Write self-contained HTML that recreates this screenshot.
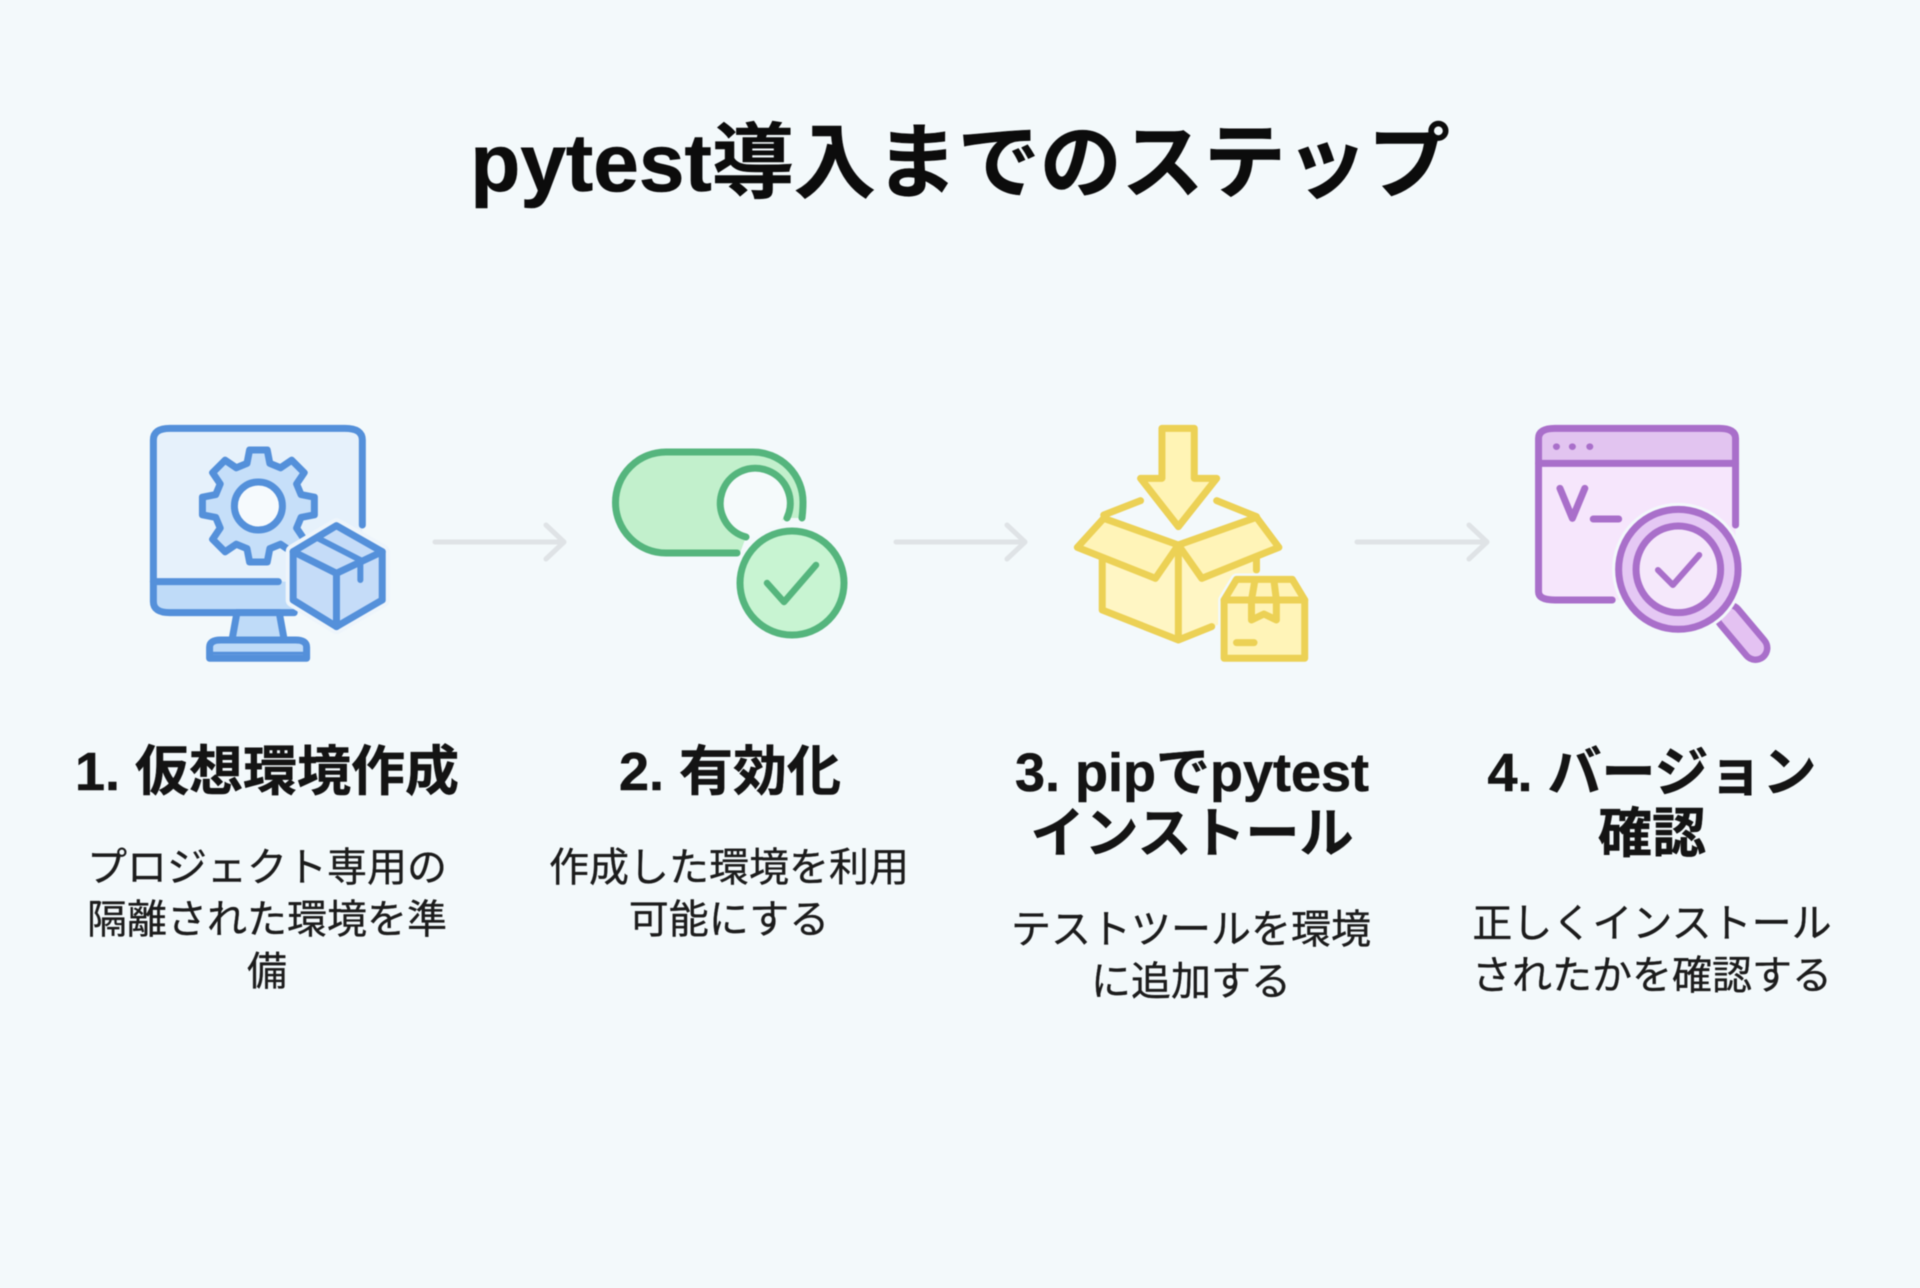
<!DOCTYPE html>
<html lang="ja">
<head>
<meta charset="utf-8">
<title>pytest導入までのステップ</title>
<style>
html,body{margin:0;padding:0;background:#f3f9fb;}
#p{position:relative;width:1920px;height:1288px;overflow:hidden;background:#f3f9fb;font-family:"Liberation Sans","Noto Sans CJK JP",sans-serif;color:#111;filter:blur(.5px);}
svg{position:absolute;left:0;top:0;}
svg *{vector-effect:non-scaling-stroke;stroke-linejoin:round;stroke-linecap:round;}
.t{position:absolute;width:800px;text-align:center;white-space:nowrap;}
.title{font-size:82px;font-weight:700;line-height:90px;left:360px;width:1200px;top:119px;color:#0c0c0c;-webkit-text-stroke:.6px #0c0c0c;}
.h{font-size:54px;font-weight:700;line-height:61px;color:#141414;-webkit-text-stroke:.5px #141414;}
.d{font-size:40px;font-weight:400;line-height:52px;color:#1c1c1c;-webkit-text-stroke:.35px #1c1c1c;}
</style>
</head>
<body>
<div id="p">
<svg width="1920" height="1288" viewBox="0 0 1920 1288" xmlns="http://www.w3.org/2000/svg">
  <!-- arrows -->
  <g fill="none" stroke="#dfe3e6" stroke-width="5">
    <path d="M435 542H563M546 525L564 542L546 559"/>
    <path d="M896 542H1024M1007 525L1025 542L1007 559"/>
    <path d="M1357 542H1486M1469 525L1487 542L1469 559"/>
  </g>

  <!-- icon 1 -->
  <g transform="translate(130,410) scale(.4975,.3333)">
    <path d="M47 90Q47 55 80 55H432Q467 55 467 90V575Q467 608 432 608H80Q47 608 47 575Z" fill="#e6f1fb"/>
    <path d="M47 515H330V608H80Q47 608 47 575Z" fill="#bfdbf8"/>
    <g fill="none" stroke="#5490da" stroke-width="7">
      <path d="M467 345V90Q467 55 432 55H80Q47 55 47 90V575Q47 608 80 608H330"/>
      <path d="M47 515H298"/>
    </g>
    <path d="M215 608H300L310 690H205Z" fill="#bfdbf8" stroke="#5490da" stroke-width="7"/>
    <path d="M160 745V712Q160 690 182 690H333Q355 690 355 712V745Z" fill="#bfdbf8" stroke="#5490da" stroke-width="7"/>
    <path d="M160 730H355" fill="none" stroke="#5490da" stroke-width="3"/>
  </g>
  <g transform="translate(258.4,506) scale(.96)">
    <path d="M44.4 -11.9L58.3 -9.2L58.3 9.2L44.4 11.9L39.8 23L47.7 34.7L34.7 47.7L23 39.8L11.9 44.4L9.2 58.3L-9.2 58.3L-11.9 44.4L-23 39.8L-34.7 47.7L-47.7 34.7L-39.8 23L-44.4 11.9L-58.3 9.2L-58.3 -9.2L-44.4 -11.9L-39.8 -23L-47.7 -34.7L-34.7 -47.7L-23 -39.8L-11.9 -44.4L-9.2 -58.3L9.2 -58.3L11.9 -44.4L23 -39.8L34.7 -47.7L47.7 -34.7L39.8 -23Z" fill="#c6dff9" stroke="#5490da" stroke-width="7"/>
    <circle r="25" fill="#f6fafd" stroke="#5490da" stroke-width="7"/>
  </g>
  <g transform="translate(130,410) scale(.4975,.3333)">
    <path d="M415 347L507 425V570L415 650L328 570V425Z" fill="#c5dcf8" stroke="#eef5fb" stroke-width="15"/>
    <path d="M415 347L507 425V570L415 650L328 570V425Z" fill="#c5dcf8" stroke="#5490da" stroke-width="7"/>
    <g fill="none" stroke="#5490da">
      <path d="M328 425L415 490L507 425M415 490V650" stroke-width="7"/>
      <path d="M378 385L463 450V510" stroke-width="6"/>
    </g>
  </g>

  <!-- icon 2 -->
  <path d="M740 553H666A50.5 50.5 0 0 1 666 452H753A50 50 0 0 1 803 502V518H787L746 537Z" fill="#c2f0cc"/>
  <circle cx="752" cy="502" r="35" fill="#f5fafb"/>
  <path d="M737 553H666A50.5 50.5 0 0 1 666 452H753A50 50 0 0 1 803 502Q803 510 802 518" fill="none" stroke="#55b57d" stroke-width="7"/>
  <path d="M787 518A35 35 0 1 0 746 537" fill="none" stroke="#55b57d" stroke-width="7"/>
  <circle cx="792" cy="583" r="52" fill="#c8f4d2" stroke="#f3f9fb" stroke-width="14"/>
  <circle cx="792" cy="583" r="52" fill="#c8f4d2" stroke="#55b57d" stroke-width="7"/>
  <path d="M767 583L784 602L816 565" fill="none" stroke="#55b57d" stroke-width="6.5"/>

  <!-- icon 3 -->
  <g transform="translate(1050,410) scale(.4975,.3333)" stroke="#ecd155" stroke-width="7">
    <path d="M105 440V600L258 690L415 600V440L258 405Z" fill="#fff6c4" stroke="none"/>
    <path d="M105 440V600L258 690L325 650M258 405V690M415 440V480" fill="none"/>
    <path d="M182 272L108 315M335 272L415 320" fill="none"/>
    <path d="M225 55H290V205H335L258 350L182 205H225Z" fill="#fff4b5"/>
    <path d="M108 325L258 405L212 505L55 412Z" fill="#fff4b8"/>
    <path d="M415 322L258 405L305 505L460 412Z" fill="#fff4b8"/>
    <path d="M375 508H487L512 570V745H350V570Z" fill="#fff4b8" stroke="#f3f9fb" stroke-width="12"/>
    <path d="M375 508H487L512 570V745H350V570Z" fill="#fff4b8"/>
    <path d="M350 570H512M412 510L405 570V630L430 612L455 630V570L450 510" fill="none"/>
    <path d="M375 698H410" fill="none"/>
  </g>

  <!-- icon 4 -->
  <g transform="translate(1050,410) scale(.4975,.3333)">
    <path d="M982 85Q982 55 1015 55H1345Q1378 55 1378 85V545Q1378 570 1345 570H1015Q982 570 982 545Z" fill="#f6e6fc"/>
    <path d="M982 85Q982 55 1015 55H1345Q1378 55 1378 85V160H982Z" fill="#e2c4f0"/>
    <g fill="none" stroke="#a96fca" stroke-width="7">
      <path d="M1378 345V85Q1378 55 1345 55H1015Q982 55 982 85V545Q982 570 1015 570H1130"/>
      <path d="M982 160H1378"/>
      <path d="M1025 235L1050 325L1075 235"/>
      <path d="M1092 327H1143"/>
    </g>
    <g fill="#a96fca">
      <ellipse cx="1018" cy="110" rx="7" ry="10"/>
      <ellipse cx="1050" cy="110" rx="7" ry="10"/>
      <ellipse cx="1085" cy="110" rx="7" ry="10"/>
    </g>
    <path d="M1365 620L1418 714" fill="none" stroke="#a96fca" stroke-width="30"/>
    <path d="M1365 620L1418 714" fill="none" stroke="#e4c2f2" stroke-width="17"/>
    <ellipse cx="1263" cy="478" rx="120" ry="180" fill="#e5c8f4" stroke="#f3f9fb" stroke-width="13"/>
    <ellipse cx="1263" cy="478" rx="120" ry="180" fill="#e5c8f4" stroke="#a96fca" stroke-width="7"/>
    <ellipse cx="1263" cy="478" rx="85" ry="130" fill="#f5e8fb" stroke="#a96fca" stroke-width="7"/>
    <path d="M1222 480L1252 525L1305 435" fill="none" stroke="#a96fca" stroke-width="6"/>
  </g>
</svg>

<div class="t title">pytest導入までのステップ</div>

<div class="t h" style="left:-133px;top:742px">1. 仮想環境作成</div>
<div class="t h" style="left:330px;top:742px">2. 有効化</div>
<div class="t h" style="left:792px;top:743px">3. pipでpytest<br>インストール</div>
<div class="t h" style="left:1252px;top:743px">4. バージョン<br>確認</div>

<div class="t d" style="left:-133px;top:842px">プロジェクト専用の<br>隔離された環境を準<br>備</div>
<div class="t d" style="left:329px;top:842px">作成した環境を利用<br>可能にする</div>
<div class="t d" style="left:791px;top:904px">テストツールを環境<br>に追加する</div>
<div class="t d" style="left:1252px;top:898px">正しくインストール<br>されたかを確認する</div>
</div>
</body>
</html>
